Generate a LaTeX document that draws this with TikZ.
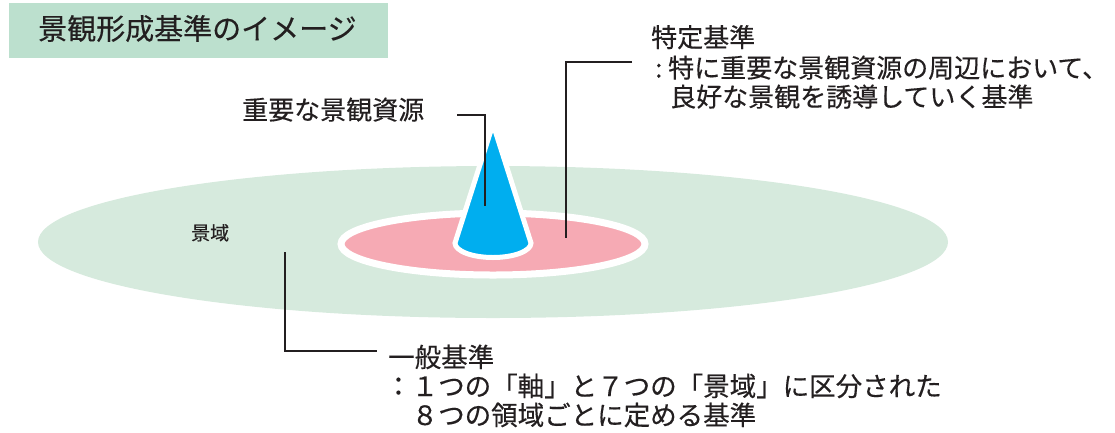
\documentclass[tikz,border=0pt]{standalone}
\usepackage{fontspec}
\setmainfont{Noto Sans CJK JP}[FakeBold=0.35]
\definecolor{titlebg}{RGB}{188,224,206}
\definecolor{fieldgreen}{RGB}{214,234,221}
\definecolor{zonepink}{RGB}{246,170,180}
\definecolor{conecyan}{RGB}{0,174,239}
\definecolor{ink}{RGB}{35,31,32}
\tikzset{
  lbl/.style={anchor=base west, inner sep=0pt, text=ink},
  leader/.style={draw=ink, line width=1.3pt},
}
\newcommand{\fs}[1]{\fontsize{#1}{#1}\selectfont}
\begin{document}
\begin{tikzpicture}[x=1pt,y=-1pt]
\useasboundingbox (0,0) rectangle (1115,432);
% title
\fill[titlebg] (9,3) rectangle (388,58);
\node[lbl, font=\fs{29}] (title) at (38,39.5) {景観形成基準のイメージ};
% big field
\fill[fieldgreen] (493,242) ellipse [x radius=455, y radius=76];
% pink zone
\filldraw[fill=zonepink, draw=white, line width=7pt] (493,244) ellipse [x radius=152, y radius=31];
% cone
\filldraw[fill=conecyan, draw=white, line width=5pt, line join=miter, miter limit=20]
  (493,124) -- (455,243) arc[start angle=180, end angle=0, x radius=38, y radius=14.5] -- cycle;
% labels
\node[lbl, font=\fs{19}] (keiiki) at (191,240) {景域};
\node[lbl, font=\fs{26}] (juyo) at (242,119.5) {重要な景観資源};
\node[lbl, font=\fs{26}] (tokutei) at (651,47) {特定基準};
\node[lbl, font=\fs{26}] (tcolon) at (655,77.5) {:};
\node[lbl, font=\fs{26}] (tline2) at (668,77.5) {特に重要な景観資源の周辺において、};
\node[lbl, font=\fs{26}] (tline3) at (670,106.5) {良好な景観を誘導していく基準};
\node[lbl, font=\fs{26.5}] (ippan) at (388,367) {一般基準};
\node[lbl, font=\fs{26.5}] (iline2) at (385,396) {：１つの「軸」と７つの「景域」に区分された};
\node[lbl, font=\fs{26.5}] (iline3) at (385,425) {　８つの領域ごとに定める基準};
% leader end points
\coordinate (jA) at (457,115);
\coordinate (jB) at (485,115);
\coordinate (jC) at (485,206);
\coordinate (tA) at (632,62);
\coordinate (tB) at (566,62);
\coordinate (tC) at (566,238);
\coordinate (iA) at (285,252);
\coordinate (iB) at (285,351);
\coordinate (iC) at (377,351);
\draw[leader] (jA) -- (jB) -- (jC);
\draw[leader] (tA) -- (tB) -- (tC);
\draw[leader] (iA) -- (iB) -- (iC);
\end{tikzpicture}
\end{document}
